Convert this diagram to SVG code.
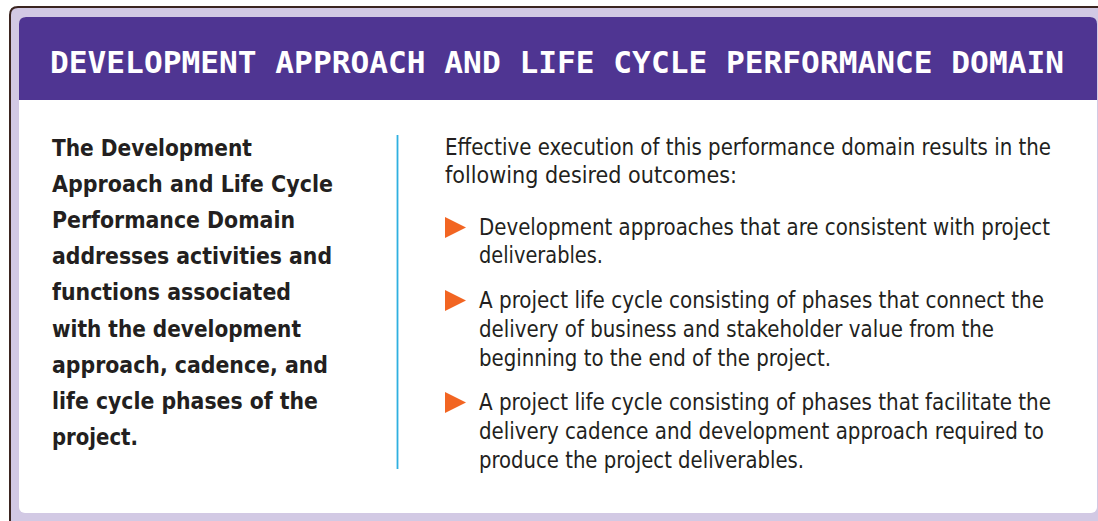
<svg xmlns="http://www.w3.org/2000/svg" width="1098" height="521" viewBox="0 0 1098 521">
<style>
.title{font-family:"DejaVu Sans Mono","Liberation Mono",monospace;font-weight:bold;font-size:31px;fill:#ffffff}
.lt{font-family:"Liberation Sans Narrow","DejaVu Sans Condensed","Liberation Sans",sans-serif;font-weight:bold;font-size:23.5px;fill:#231f20}
.rt{font-family:"Liberation Sans Narrow","DejaVu Sans Condensed","Liberation Sans",sans-serif;font-size:22.5px;fill:#231f20}
.bul{fill:#f26522}
</style>
<rect x="0" y="0" width="1098" height="521" fill="#ffffff"/>
<g id="frame">
<path d="M10,521 V15 Q10,7 18,7 H1098 V521 Z" fill="#d2c9e4"/>
<path d="M10,521 V15 Q10,7 18,7 H1098" fill="none" stroke="#3b2520" stroke-width="2"/>
<rect x="19" y="17" width="1078" height="496" rx="6" fill="#ffffff"/>
</g>
<g id="header">
<path d="M19,100 V24 Q19,17 26,17 H1090 Q1097,17 1097,24 V100 Z" fill="#4f3592"/>
<text class="title" x="50" y="72.5" textLength="1014" lengthAdjust="spacingAndGlyphs">DEVELOPMENT APPROACH AND LIFE CYCLE PERFORMANCE DOMAIN</text>
</g>
<g id="left-text">
<text class="lt" x="52" y="156" textLength="200" lengthAdjust="spacingAndGlyphs">The Development</text>
<text class="lt" x="52" y="192" textLength="281" lengthAdjust="spacingAndGlyphs">Approach and Life Cycle</text>
<text class="lt" x="52" y="228" textLength="243" lengthAdjust="spacingAndGlyphs">Performance Domain</text>
<text class="lt" x="52" y="264" textLength="280" lengthAdjust="spacingAndGlyphs">addresses activities and</text>
<text class="lt" x="52" y="300" textLength="239" lengthAdjust="spacingAndGlyphs">functions associated</text>
<text class="lt" x="52" y="337" textLength="249" lengthAdjust="spacingAndGlyphs">with the development</text>
<text class="lt" x="52" y="373" textLength="276" lengthAdjust="spacingAndGlyphs">approach, cadence, and</text>
<text class="lt" x="52" y="409" textLength="266" lengthAdjust="spacingAndGlyphs">life cycle phases of the</text>
<text class="lt" x="52" y="445" textLength="86" lengthAdjust="spacingAndGlyphs">project.</text>
</g>
<g id="divider">
<line x1="397.5" y1="135" x2="397.5" y2="469" stroke="#2fb0e0" stroke-width="1.8"/>
</g>
<g id="right-text">
<text class="rt" x="445" y="155" textLength="606" lengthAdjust="spacingAndGlyphs">Effective execution of this performance domain results in the</text>
<text class="rt" x="445" y="183" textLength="292" lengthAdjust="spacingAndGlyphs">following desired outcomes:</text>
</g>
<g id="bullet-1">
<polygon class="bul" points="445,217 466,227.5 445,238"/>
<text class="rt" x="479" y="235" textLength="571" lengthAdjust="spacingAndGlyphs">Development approaches that are consistent with project</text>
<text class="rt" x="479" y="263" textLength="124" lengthAdjust="spacingAndGlyphs">deliverables.</text>
</g>
<g id="bullet-2">
<polygon class="bul" points="445,290 466,300.5 445,311"/>
<text class="rt" x="479" y="308" textLength="565" lengthAdjust="spacingAndGlyphs">A project life cycle consisting of phases that connect the</text>
<text class="rt" x="479" y="337" textLength="515" lengthAdjust="spacingAndGlyphs">delivery of business and stakeholder value from the</text>
<text class="rt" x="479" y="366" textLength="352" lengthAdjust="spacingAndGlyphs">beginning to the end of the project.</text>
</g>
<g id="bullet-3">
<polygon class="bul" points="445,392 466,402.5 445,413"/>
<text class="rt" x="479" y="410" textLength="572" lengthAdjust="spacingAndGlyphs">A project life cycle consisting of phases that facilitate the</text>
<text class="rt" x="479" y="439" textLength="565" lengthAdjust="spacingAndGlyphs">delivery cadence and development approach required to</text>
<text class="rt" x="479" y="468" textLength="325" lengthAdjust="spacingAndGlyphs">produce the project deliverables.</text>
</g>
</svg>
